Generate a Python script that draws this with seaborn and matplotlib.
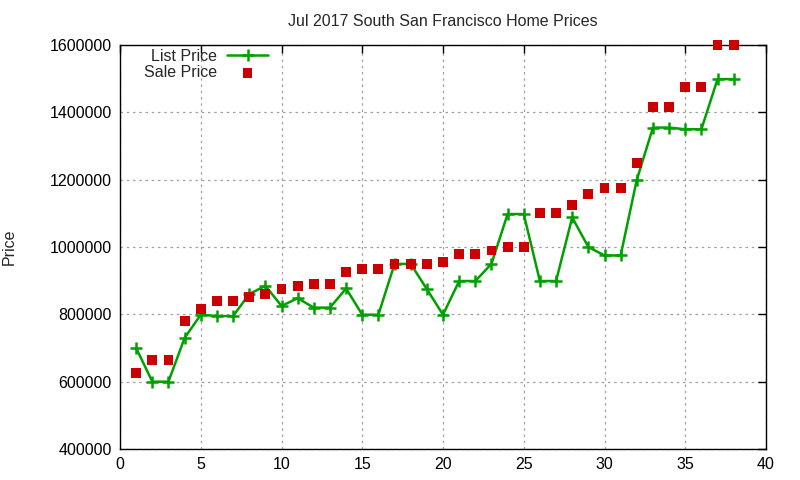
import numpy as np
import pandas as pd
import matplotlib
matplotlib.use("Agg")
import matplotlib.pyplot as plt
import seaborn as sns

# data
homes = list(range(1, 39))
list_price = [700000, 600000, 600000, 730000, 799000, 795000, 795000, 860000, 885000, 825000,
              848000, 820000, 820000, 877000, 799000, 799000, 950000, 950000, 875000, 799000,
              899000, 899000, 950000, 1098000, 1098000, 899000, 899000, 1088000, 1000000, 975000,
              975000, 1200000, 1355000, 1355000, 1350000, 1350000, 1499000, 1499000]
sale_price = [625000, 665000, 665000, 780000, 815000, 840000, 840000, 852000, 860000, 875000,
              885000, 890000, 890000, 925000, 935000, 935000, 950000, 950000, 950000, 955000,
              980000, 980000, 990000, 1000000, 1000000, 1100000, 1100000, 1125000, 1157000, 1175000,
              1175000, 1250000, 1415000, 1415000, 1475000, 1475000, 1600000, 1600000]
x_ticks = list(range(0, 41, 5))
y_ticks = list(range(400000, 1600001, 200000))

df = pd.DataFrame({"home": homes, "list": list_price, "sale": sale_price})

sns.set_style("white")
plt.rcParams["font.family"] = ["Liberation Sans", "DejaVu Sans"]

fig = plt.figure(figsize=(8, 4.8), dpi=100)
ax = fig.add_axes([0.15, 0.0646, 0.8075, 0.8414])

green = "#00a000"
sns.lineplot(data=df, x="home", y="list", ax=ax, color=green, linewidth=1.8,
             marker="+", markersize=9, markeredgewidth=1.8, markeredgecolor=green,
             label="List Price")
sns.scatterplot(data=df, x="home", y="sale", ax=ax, color="#cc0000", marker="s", s=50,
                edgecolor="none", label="Sale Price", clip_on=False, zorder=3)

ax.set_xlim(0, 40)
ax.set_ylim(400000, 1600000)
ax.set_xticks(x_ticks)
ax.set_yticks(y_ticks)
ax.ticklabel_format(style="plain", axis="y")
ax.grid(True, linestyle=(0, (2, 3)), color="#a0a0a0", linewidth=0.9)
ax.tick_params(direction="in", length=6, width=1, top=True, right=True,
               labelsize=11.5, colors="black", pad=6)
for s in ax.spines.values():
    s.set_color("black")
    s.set_linewidth(1)

ax.set_xlabel("")
ax.set_ylabel("Price", fontsize=11.5)
ax.yaxis.set_label_coords(-0.16, 0.5)
ax.set_title("Jul 2017 South San Francisco Home Prices", fontsize=11.5, pad=14)

ax.legend(loc="upper left", bbox_to_anchor=(0.02, 1.018), frameon=False, markerfirst=False,
          fontsize=11.5, handlelength=2.6, labelspacing=0.05, borderpad=0.2, handletextpad=0.6)

fig.savefig("out.png", dpi=100)
